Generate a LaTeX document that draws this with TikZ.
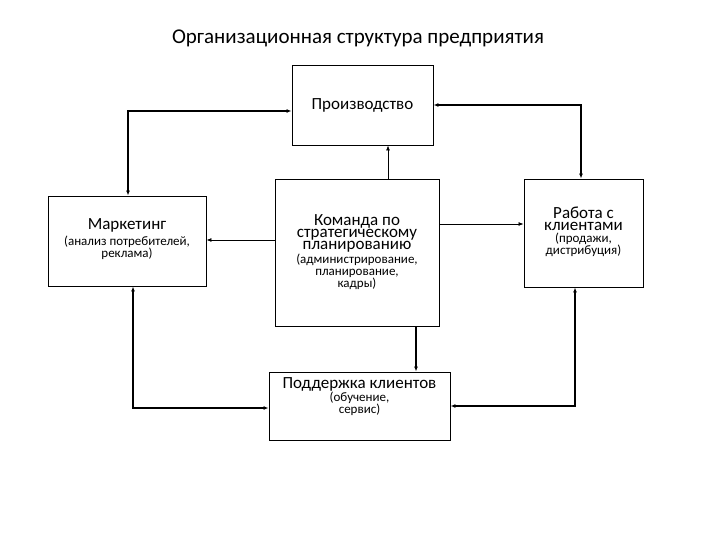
\documentclass[tikz,border=0pt]{standalone}
\usepackage{fontspec}
\setmainfont{Carlito}
\usetikzlibrary{arrows.meta}
\newcommand{\bigf}{\fontsize{17}{21}\selectfont}
\newcommand{\smallf}{\fontsize{13}{17}\selectfont}
\begin{document}
\begin{tikzpicture}[x=1pt,y=-1pt,
  box/.style={draw,line width=0.9pt,inner sep=0pt},
  lbl/.style={align=center,inner sep=0pt},
  thin/.style={line width=0.8pt,-{Latex[length=5pt,width=4pt]}},
  thick2/.style={line width=1.8pt,{Latex[length=5pt,width=4pt]}-{Latex[length=5pt,width=4pt]}},
  thick1/.style={line width=1.8pt,-{Latex[length=5pt,width=4pt]}}]
\useasboundingbox (0,0) rectangle (720,540);
\node[font=\fontsize{21}{25}\selectfont] (title) at (358,38) {Организационная структура предприятия};
\node[box,minimum width=141pt,minimum height=80pt] (prod) at (362.5,105) {};
\node[lbl,font=\bigf] (prodt) at (362.5,105) {Производство};
\node[box,minimum width=158pt,minimum height=90pt] (mark) at (127,241) {};
\node[lbl] (markt) at (127,239) {\bigf Маркетинг\\[3pt] \smallf (анализ потребителей,\\ \smallf реклама)};
\node[box,minimum width=164pt,minimum height=147pt] (team) at (357,252.5) {};
\node[lbl] (teamt) at (357,252) {\bigf Команда по\\ \bigf стратегическому\\ \bigf планированию\\ \smallf (администрирование,\\ \smallf планирование,\\ \smallf кадры)};
\node[box,minimum width=119pt,minimum height=108pt] (work) at (583.5,233) {};
\node[lbl] (workt) at (583.5,232) {\bigf Работа с\\ \bigf клиентами\\ \smallf (продажи,\\ \smallf дистрибуция)};
\node[box,minimum width=181pt,minimum height=68pt] (supp) at (359.5,406) {};
\node[lbl,anchor=north] (suppt) at (359.5,377) {\bigf Поддержка клиентов\\ \smallf (обучение,\\ \smallf сервис)};
% connectors
\draw[thick2] (mark.north -| 128,0) |- (prod.west |- 0,111);
\draw[thin] (team.north -| 388,0) -- (prod.south -| 388,0);
\draw[thin] (team.west |- 0,240) -- (mark.east |- 0,240);
\draw[thin] (team.east |- 0,224) -- (work.west |- 0,224);
\draw[thick2] (prod.east |- 0,105) -| (work.north -| 581,0);
\draw[thick1] (team.south -| 416,0) -- (supp.north -| 416,0);
\draw[thick2] (mark.south -| 133,0) |- (supp.west |- 0,408);
\draw[thick2] (supp.east |- 0,406) -| (work.south -| 575,0);
\end{tikzpicture}
\end{document}
